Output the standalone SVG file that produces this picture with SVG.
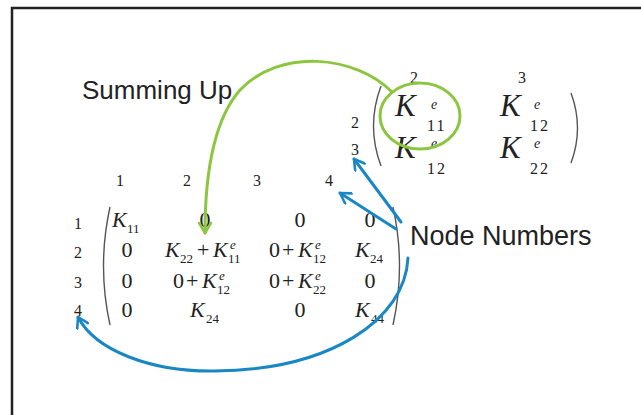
<svg xmlns="http://www.w3.org/2000/svg" width="641" height="415" viewBox="0 0 641 415">
<style>
.k{font-family:"Liberation Serif",serif;font-style:italic;font-size:22px;fill:#222}
.n{font-family:"Liberation Serif",serif;font-size:22px;fill:#222}
.s{font-family:"Liberation Serif",serif;font-size:13px;fill:#222}
.e{font-family:"Liberation Serif",serif;font-style:italic;font-size:13px;fill:#222}
.K{font-family:"Liberation Serif",serif;font-style:italic;font-size:31px;fill:#222}
.S{font-family:"Liberation Serif",serif;font-size:16px;fill:#222;letter-spacing:2px}
.E{font-family:"Liberation Serif",serif;font-style:italic;font-size:14px;fill:#222}
.lbl{font-family:"Liberation Serif",serif;font-size:16px;fill:#222;text-anchor:middle}
.m{text-anchor:middle}
.title{font-family:"Liberation Sans",Arial,sans-serif;fill:#222}
.par{fill:none;stroke:#555;stroke-width:1.4}
.blue{fill:none;stroke:#1a87c5;stroke-width:3;stroke-linecap:round}
.green{fill:none;stroke:#8cc63f;stroke-width:3;stroke-linecap:round}
</style>
<defs>
<marker id="ab" viewBox="0 0 14 14" refX="12" refY="7" markerWidth="14" markerHeight="14" orient="auto" markerUnits="userSpaceOnUse">
<path d="M2,1 L12,7 L2,13" fill="none" stroke="#1a87c5" stroke-width="2.6" stroke-linecap="round" stroke-linejoin="round"/>
</marker>
<marker id="ag" viewBox="0 0 14 14" refX="12" refY="7" markerWidth="14" markerHeight="14" orient="auto" markerUnits="userSpaceOnUse">
<path d="M2,1 L12,7 L2,13" fill="none" stroke="#8cc63f" stroke-width="2.6" stroke-linecap="round" stroke-linejoin="round"/>
</marker>
</defs>
<rect width="641" height="415" fill="#fff"/>
<path d="M12,415 V8 H641" fill="none" stroke="#222" stroke-width="2.5"/>

<g id="summing-up">
<text class="title" x="82" y="99" font-size="26">Summing Up</text>
</g>
<g id="node-numbers">
<text class="title" x="410" y="245" font-size="27">Node Numbers</text>
</g>

<g id="element-matrix">
<text class="lbl" x="414" y="83">2</text>
<text class="lbl" x="522" y="83">3</text>
<text class="lbl" x="355" y="128">2</text>
<text class="lbl" x="355" y="155">3</text>
<path class="par" d="M381,86 Q366,126 381,166"/>
<path class="par" d="M571,93 Q584,128 571,163"/>
<text class="K" x="395" y="116">K</text>
<text class="E" x="431" y="109">e</text>
<text class="S" x="427" y="131">11</text>
<text class="K" x="500" y="116">K</text>
<text class="E" x="534" y="109">e</text>
<text class="S" x="530" y="131">12</text>
<text class="K" x="395" y="158">K</text>
<text class="E" x="431" y="148">e</text>
<text class="S" x="427" y="174">12</text>
<text class="K" x="500" y="158">K</text>
<text class="E" x="534" y="148">e</text>
<text class="S" x="530" y="174">22</text>
</g>

<g id="highlight">
<ellipse cx="420" cy="116" rx="40" ry="33" fill="none" stroke="#8cc63f" stroke-width="3"/>
</g>

<g id="global-matrix">
<text class="lbl" x="120" y="186">1</text>
<text class="lbl" x="187" y="186">2</text>
<text class="lbl" x="257" y="186">3</text>
<text class="lbl" x="329" y="186">4</text>
<text class="lbl" x="78" y="229">1</text>
<text class="lbl" x="78" y="258">2</text>
<text class="lbl" x="78" y="288">3</text>
<text class="lbl" x="78" y="316">4</text>
<path class="par" d="M110,207 Q97,266 110,325"/>
<path class="par" d="M393,207 Q406,266 393,325"/>
<!-- row 1 -->
<text class="k" x="112" y="227">K</text>
<text class="s" x="127" y="233">11</text>
<text class="n m" x="205" y="227">0</text>
<text class="n m" x="300" y="227">0</text>
<text class="n m" x="370" y="227">0</text>
<!-- row 2 -->
<text class="n m" x="127" y="257">0</text>
<text class="k" x="165" y="257">K</text>
<text class="s" x="180" y="263">22</text>
<text class="n" x="197" y="257">+</text>
<text class="k" x="213" y="257">K</text>
<text class="s" x="228" y="263">11</text>
<text class="e" x="230" y="249">e</text>
<text class="n" x="269" y="257">0</text>
<text class="n" x="282" y="257">+</text>
<text class="k" x="298" y="257">K</text>
<text class="s" x="313" y="263">12</text>
<text class="e" x="315" y="249">e</text>
<text class="k" x="355" y="257">K</text>
<text class="s" x="370" y="263">24</text>
<!-- row 3 -->
<text class="n m" x="127" y="288">0</text>
<text class="n" x="173" y="288">0</text>
<text class="n" x="186" y="288">+</text>
<text class="k" x="202" y="288">K</text>
<text class="s" x="217" y="294">12</text>
<text class="e" x="219" y="280">e</text>
<text class="n" x="269" y="288">0</text>
<text class="n" x="282" y="288">+</text>
<text class="k" x="298" y="288">K</text>
<text class="s" x="313" y="294">22</text>
<text class="e" x="315" y="280">e</text>
<text class="n m" x="370" y="288">0</text>
<!-- row 4 -->
<text class="n m" x="127" y="317">0</text>
<text class="k" x="190" y="317">K</text>
<text class="s" x="206" y="323">24</text>
<text class="n m" x="300" y="317">0</text>
<text class="k" x="355" y="317">K</text>
<text class="s" x="371" y="323">44</text>
</g>

<g id="connectors">
<path class="green" d="M392,92 C355,55 280,48 240,90 C212,122 205,180 205,233" marker-end="url(#ag)"/>
<path class="blue" d="M401,222 L354,159" marker-end="url(#ab)"/>
<path class="blue" d="M396,229 L340,193" marker-end="url(#ab)"/>
<path class="blue" d="M408,258 C405,320 330,370 215,371 C150,372 95,350 78,317" marker-end="url(#ab)"/>
</g>
</svg>
